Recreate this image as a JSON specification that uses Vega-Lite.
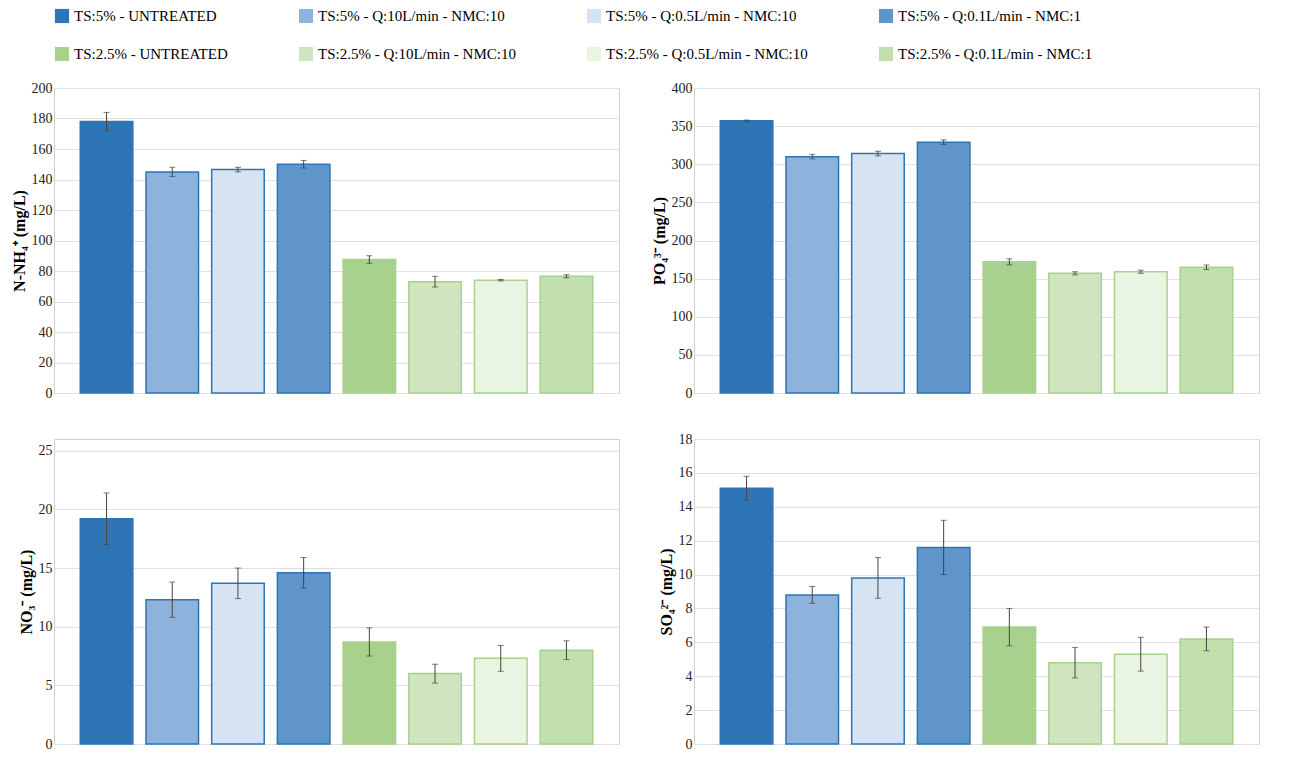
{
  "$schema": "https://vega.github.io/schema/vega-lite/v6.json",
  "background": "white",
  "padding": {"left": 10, "top": 8, "right": 10, "bottom": 5},
  "config": {
    "font": "Liberation Serif",
    "view": {"stroke": "#d0d0d0"},
    "axis": {"labelFontSize": 14, "titleFontSize": 16, "titleFontWeight": "bold", "labelColor": "#222", "gridColor": "#e0e0e0", "domain": false, "ticks": false},
    "legend": {"orient": "top", "columns": 4, "labelFontSize": 15, "symbolSize": 200, "symbolType": "square", "labelLimit": 400, "columnPadding": 70, "rowPadding": 22, "offset": 18}
  },
  "datasets": {
    "d": [
      {"p": "NH4", "g": "TS:5% - UNTREATED", "v": 178, "e": 6},
      {"p": "NH4", "g": "TS:5% - Q:10L/min - NMC:10", "v": 145, "e": 3},
      {"p": "NH4", "g": "TS:5% - Q:0.5L/min - NMC:10", "v": 146.5, "e": 1.5},
      {"p": "NH4", "g": "TS:5% - Q:0.1L/min - NMC:1", "v": 150, "e": 2.5},
      {"p": "NH4", "g": "TS:2.5% - UNTREATED", "v": 87.5, "e": 2.5},
      {"p": "NH4", "g": "TS:2.5% - Q:10L/min - NMC:10", "v": 73, "e": 3.5},
      {"p": "NH4", "g": "TS:2.5% - Q:0.5L/min - NMC:10", "v": 74, "e": 0.5},
      {"p": "NH4", "g": "TS:2.5% - Q:0.1L/min - NMC:1", "v": 76.5, "e": 1},
      {"p": "PO4", "g": "TS:5% - UNTREATED", "v": 357, "e": 1},
      {"p": "PO4", "g": "TS:5% - Q:10L/min - NMC:10", "v": 310, "e": 3},
      {"p": "PO4", "g": "TS:5% - Q:0.5L/min - NMC:10", "v": 314, "e": 3},
      {"p": "PO4", "g": "TS:5% - Q:0.1L/min - NMC:1", "v": 329, "e": 3},
      {"p": "PO4", "g": "TS:2.5% - UNTREATED", "v": 172, "e": 4},
      {"p": "PO4", "g": "TS:2.5% - Q:10L/min - NMC:10", "v": 157, "e": 2},
      {"p": "PO4", "g": "TS:2.5% - Q:0.5L/min - NMC:10", "v": 159, "e": 2},
      {"p": "PO4", "g": "TS:2.5% - Q:0.1L/min - NMC:1", "v": 165, "e": 3},
      {"p": "NO3", "g": "TS:5% - UNTREATED", "v": 19.2, "e": 2.2},
      {"p": "NO3", "g": "TS:5% - Q:10L/min - NMC:10", "v": 12.3, "e": 1.5},
      {"p": "NO3", "g": "TS:5% - Q:0.5L/min - NMC:10", "v": 13.7, "e": 1.3},
      {"p": "NO3", "g": "TS:5% - Q:0.1L/min - NMC:1", "v": 14.6, "e": 1.3},
      {"p": "NO3", "g": "TS:2.5% - UNTREATED", "v": 8.7, "e": 1.2},
      {"p": "NO3", "g": "TS:2.5% - Q:10L/min - NMC:10", "v": 6.0, "e": 0.8},
      {"p": "NO3", "g": "TS:2.5% - Q:0.5L/min - NMC:10", "v": 7.3, "e": 1.1},
      {"p": "NO3", "g": "TS:2.5% - Q:0.1L/min - NMC:1", "v": 8.0, "e": 0.8},
      {"p": "SO4", "g": "TS:5% - UNTREATED", "v": 15.1, "e": 0.7},
      {"p": "SO4", "g": "TS:5% - Q:10L/min - NMC:10", "v": 8.8, "e": 0.5},
      {"p": "SO4", "g": "TS:5% - Q:0.5L/min - NMC:10", "v": 9.8, "e": 1.2},
      {"p": "SO4", "g": "TS:5% - Q:0.1L/min - NMC:1", "v": 11.6, "e": 1.6},
      {"p": "SO4", "g": "TS:2.5% - UNTREATED", "v": 6.9, "e": 1.1},
      {"p": "SO4", "g": "TS:2.5% - Q:10L/min - NMC:10", "v": 4.8, "e": 0.9},
      {"p": "SO4", "g": "TS:2.5% - Q:0.5L/min - NMC:10", "v": 5.3, "e": 1.0},
      {"p": "SO4", "g": "TS:2.5% - Q:0.1L/min - NMC:1", "v": 6.2, "e": 0.7}
    ]
  },
  "data": {"name": "d"},
  "columns": 2,
  "spacing": 30,
  "resolve": {"scale": {"y": "independent"}},
  "concat": [
    {
      "width": 565, "height": 305,
      "transform": [{"filter": "datum.p == 'NH4'"}],
      "layer": [
        {"mark": {"type": "bar", "strokeWidth": 1.5}, "encoding": {
          "x": {"field": "g", "type": "nominal", "sort": null, "axis": null, "scale": {"paddingInner": 0.2, "paddingOuter": 0.4}},
          "y": {"field": "v", "type": "quantitative", "scale": {"domain": [0, 200]}, "axis": {"title": "N-NH₄⁺ (mg/L)", "values": [0, 20, 40, 60, 80, 100, 120, 140, 160, 180, 200]}},
          "fill": {"field": "g", "type": "nominal", "sort": null, "title": null,
            "scale": {"domain": ["TS:5% - UNTREATED", "TS:5% - Q:10L/min - NMC:10", "TS:5% - Q:0.5L/min - NMC:10", "TS:5% - Q:0.1L/min - NMC:1", "TS:2.5% - UNTREATED", "TS:2.5% - Q:10L/min - NMC:10", "TS:2.5% - Q:0.5L/min - NMC:10", "TS:2.5% - Q:0.1L/min - NMC:1"],
              "range": ["#2e75b6", "#8db3dc", "#d5e3f2", "#5f95cb", "#a9d18e", "#cfe5c0", "#eaf4e2", "#c2dfae"]}},
          "stroke": {"field": "g", "type": "nominal", "sort": null, "legend": null,
            "scale": {"range": ["#2e75b6", "#2e75b6", "#2e75b6", "#2e75b6", "#a9d18e", "#a9d18e", "#a9d18e", "#a9d18e"]}}
        }},
        {"mark": {"type": "errorbar", "ticks": {"size": 6}, "color": "#444"}, "encoding": {
          "x": {"field": "g", "type": "nominal", "sort": null},
          "y": {"field": "v", "type": "quantitative", "axis": {"title": "N-NH₄⁺ (mg/L)", "values": [0, 20, 40, 60, 80, 100, 120, 140, 160, 180, 200]}},
          "yError": {"field": "e"}
        }}
      ]
    },
    {
      "width": 565, "height": 305,
      "transform": [{"filter": "datum.p == 'PO4'"}],
      "layer": [
        {"mark": {"type": "bar", "strokeWidth": 1.5}, "encoding": {
          "x": {"field": "g", "type": "nominal", "sort": null, "axis": null, "scale": {"paddingInner": 0.2, "paddingOuter": 0.4}},
          "y": {"field": "v", "type": "quantitative", "scale": {"domain": [0, 400]}, "axis": {"title": "PO₄³⁻ (mg/L)", "values": [0, 50, 100, 150, 200, 250, 300, 350, 400]}},
          "fill": {"field": "g", "type": "nominal", "sort": null, "title": null},
          "stroke": {"field": "g", "type": "nominal", "sort": null, "legend": null}
        }},
        {"mark": {"type": "errorbar", "ticks": {"size": 6}, "color": "#444"}, "encoding": {
          "x": {"field": "g", "type": "nominal", "sort": null},
          "y": {"field": "v", "type": "quantitative", "axis": {"title": "PO₄³⁻ (mg/L)", "values": [0, 50, 100, 150, 200, 250, 300, 350, 400]}},
          "yError": {"field": "e"}
        }}
      ]
    },
    {
      "width": 565, "height": 305,
      "transform": [{"filter": "datum.p == 'NO3'"}],
      "layer": [
        {"mark": {"type": "bar", "strokeWidth": 1.5}, "encoding": {
          "x": {"field": "g", "type": "nominal", "sort": null, "axis": null, "scale": {"paddingInner": 0.2, "paddingOuter": 0.4}},
          "y": {"field": "v", "type": "quantitative", "scale": {"domain": [0, 25]}, "axis": {"title": "NO₃⁻ (mg/L)", "values": [0, 5, 10, 15, 20, 25]}},
          "fill": {"field": "g", "type": "nominal", "sort": null, "title": null},
          "stroke": {"field": "g", "type": "nominal", "sort": null, "legend": null}
        }},
        {"mark": {"type": "errorbar", "ticks": {"size": 6}, "color": "#444"}, "encoding": {
          "x": {"field": "g", "type": "nominal", "sort": null},
          "y": {"field": "v", "type": "quantitative", "axis": {"title": "NO₃⁻ (mg/L)", "values": [0, 5, 10, 15, 20, 25]}},
          "yError": {"field": "e"}
        }}
      ]
    },
    {
      "width": 565, "height": 305,
      "transform": [{"filter": "datum.p == 'SO4'"}],
      "layer": [
        {"mark": {"type": "bar", "strokeWidth": 1.5}, "encoding": {
          "x": {"field": "g", "type": "nominal", "sort": null, "axis": null, "scale": {"paddingInner": 0.2, "paddingOuter": 0.4}},
          "y": {"field": "v", "type": "quantitative", "scale": {"domain": [0, 18]}, "axis": {"title": "SO₄²⁻ (mg/L)", "values": [0, 2, 4, 6, 8, 10, 12, 14, 16, 18]}},
          "fill": {"field": "g", "type": "nominal", "sort": null, "title": null},
          "stroke": {"field": "g", "type": "nominal", "sort": null, "legend": null}
        }},
        {"mark": {"type": "errorbar", "ticks": {"size": 6}, "color": "#444"}, "encoding": {
          "x": {"field": "g", "type": "nominal", "sort": null},
          "y": {"field": "v", "type": "quantitative", "axis": {"title": "SO₄²⁻ (mg/L)", "values": [0, 2, 4, 6, 8, 10, 12, 14, 16, 18]}},
          "yError": {"field": "e"}
        }}
      ]
    }
  ]
}
